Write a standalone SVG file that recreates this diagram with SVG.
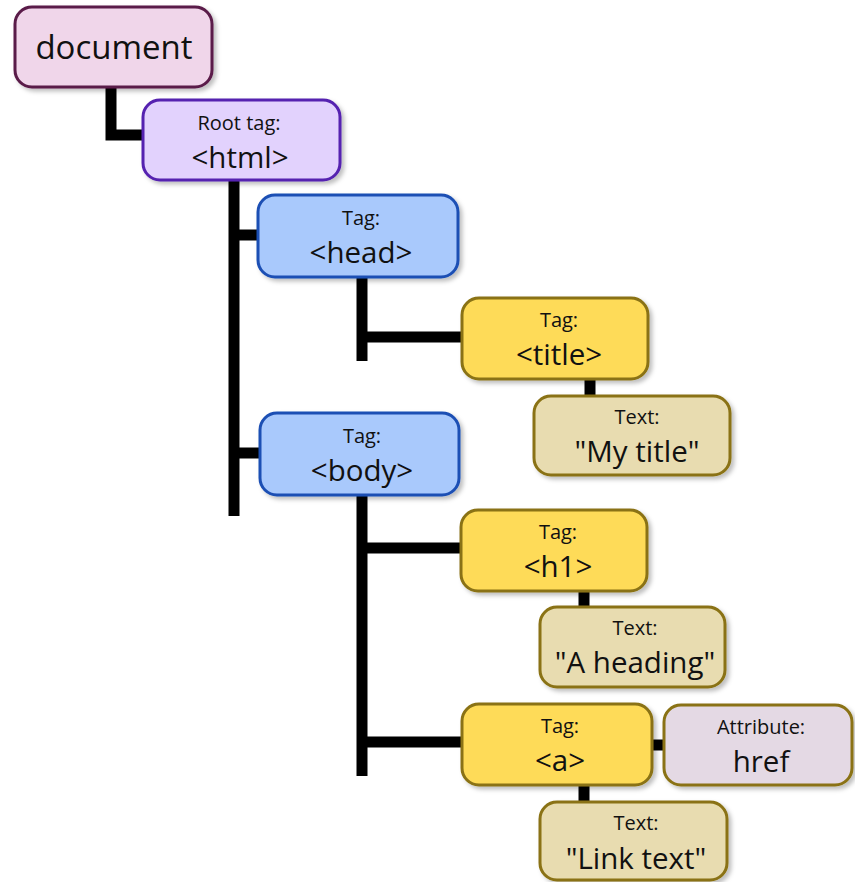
<svg xmlns="http://www.w3.org/2000/svg" width="855" height="882" viewBox="0 0 855 882">
<defs>
<filter id="sh" x="-10%" y="-10%" width="130%" height="140%">
<feDropShadow dx="3" dy="3" stdDeviation="2" flood-color="#000" flood-opacity="0.25"/>
</filter>
<style>
.box{stroke-width:3;filter:url(#sh)}
.doc{fill:#f0d6ea;stroke:#5a1a48}
.root{fill:#e2d2fd;stroke:#5520b0}
.tag2{fill:#a9c9fc;stroke:#1c4fb4}
.tag3{fill:#fedb58;stroke:#8a7212}
.txt{fill:#e8dcb0;stroke:#8a7212}
.attr{fill:#e4d9e4;stroke:#8a7212}
text{font-family:"Open Sans","Noto Sans","DejaVu Sans",sans-serif;fill:#111;text-anchor:middle}
.s{font-size:20px}
.m{font-size:29.5px}
.conn{stroke:#000;stroke-width:11;fill:none;stroke-linejoin:miter;stroke-linecap:butt}
</style>
</defs>
<g id="connectors">
<polyline class="conn" points="111,87 111,135 143,135"/>
<line class="conn" x1="234" y1="180" x2="234" y2="516"/>
<line class="conn" x1="234" y1="235" x2="258" y2="235"/>
<line class="conn" x1="234" y1="453" x2="260" y2="453"/>
<line class="conn" x1="362" y1="277" x2="362" y2="361"/>
<line class="conn" x1="362" y1="337" x2="462" y2="337"/>
<line class="conn" x1="590" y1="379" x2="590" y2="396"/>
<line class="conn" x1="362" y1="495" x2="362" y2="776"/>
<line class="conn" x1="362" y1="548" x2="461" y2="548"/>
<line class="conn" x1="362" y1="742" x2="462" y2="742"/>
<line class="conn" x1="584" y1="591" x2="584" y2="607"/>
<line class="conn" x1="652" y1="745" x2="664" y2="745"/>
<line class="conn" x1="584" y1="785" x2="584" y2="802"/>
</g>
<g id="document">
<rect class="box doc" x="15" y="7" width="197" height="80" rx="17"/>
<text class="m" x="114" y="59" style="font-size:33px">document</text>
</g>
<g id="html">
<rect class="box root" x="143" y="100" width="197" height="80" rx="17"/>
<text class="s" x="239" y="130">Root tag:</text>
<text class="m" x="240" y="168">&lt;html&gt;</text>
</g>
<g id="head">
<rect class="box tag2" x="258" y="195" width="200" height="82" rx="17"/>
<text class="s" x="361" y="225">Tag:</text>
<text class="m" x="361" y="263">&lt;head&gt;</text>
</g>
<g id="body">
<rect class="box tag2" x="260" y="413" width="199" height="82" rx="17"/>
<text class="s" x="362" y="443">Tag:</text>
<text class="m" x="362" y="481">&lt;body&gt;</text>
</g>
<g id="title">
<rect class="box tag3" x="462" y="298" width="186" height="81" rx="17"/>
<text class="s" x="559" y="327">Tag:</text>
<text class="m" x="559" y="365">&lt;title&gt;</text>
</g>
<g id="title-text">
<rect class="box txt" x="534" y="396" width="196" height="79" rx="17"/>
<text class="s" x="637" y="424">Text:</text>
<text class="m" x="637" y="462">"My title"</text>
</g>
<g id="h1">
<rect class="box tag3" x="461" y="510" width="186" height="81" rx="17"/>
<text class="s" x="558" y="539">Tag:</text>
<text class="m" x="558" y="577">&lt;h1&gt;</text>
</g>
<g id="h1-text">
<rect class="box txt" x="540" y="607" width="185" height="80" rx="17"/>
<text class="s" x="635" y="635">Text:</text>
<text class="m" x="635" y="673">"A heading"</text>
</g>
<g id="a">
<rect class="box tag3" x="462" y="704" width="190" height="81" rx="17"/>
<text class="s" x="560" y="733">Tag:</text>
<text class="m" x="560" y="771">&lt;a&gt;</text>
</g>
<g id="href">
<rect class="box attr" x="664" y="705" width="188" height="80" rx="17"/>
<text class="s" x="761" y="734">Attribute:</text>
<text class="m" x="761" y="772">href</text>
</g>
<g id="a-text">
<rect class="box txt" x="540" y="802" width="187" height="78" rx="17"/>
<text class="s" x="636" y="830">Text:</text>
<text class="m" x="636" y="869">"Link text"</text>
</g>
</svg>
